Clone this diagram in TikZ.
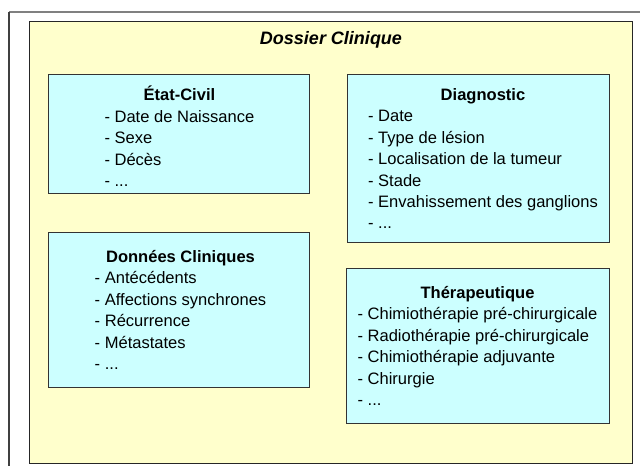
\documentclass[tikz,border=0pt]{standalone}
\usepackage{fontspec}
\setmainfont{Liberation Sans}
\definecolor{sheetfill}{HTML}{FFFFCC}
\definecolor{panelfill}{HTML}{CCFFFF}
\definecolor{framegray}{HTML}{808080}
\begin{document}
\begin{tikzpicture}[x=0.75pt,y=-0.75pt,
  sheet/.style={draw=black!85, line width=0.9pt, fill=sheetfill, anchor=north west, inner sep=0pt},
  panel/.style={draw=black!80, line width=0.9pt, fill=panelfill, anchor=north west, inner sep=0pt},
  listing/.style={inner sep=0pt, font=\fontsize{12.4}{16.1}\selectfont},
  heading/.style={inner sep=0pt, font=\fontsize{13.5}{16}\selectfont\bfseries\itshape}]
\useasboundingbox (0,0) rectangle (640,466);
% window frame lines
\draw[framegray, line width=1.2pt] (9,12) -- (640,12);
\draw[black!75, line width=1.2pt] (9,12) -- (9,466);
% yellow sheet
\node[sheet, minimum width=452.25pt, minimum height=331.5pt] (sheet) at (29,21) {};
\node[heading] (title) at (331,39.5) {Dossier Clinique};
% panels
\node[panel, minimum width=195.75pt, minimum height=89.25pt] (etat) at (48,74) {};
\node[panel, minimum width=196.5pt, minimum height=126pt] (diag) at (347,74) {};
\node[panel, minimum width=195.75pt, minimum height=116.25pt] (donnees) at (48,232) {};
\node[panel, minimum width=197.25pt, minimum height=116.25pt] (thera) at (346,268) {};
% panel contents
\node[listing] (etatText) at (179.4,139.5) {%
  \begin{tabular}{@{}l@{}}\multicolumn{1}{@{}c@{}}{\bfseries État-Civil}\\
  - Date de Naissance\\ - Sexe\\ - Décès\\ - ...\end{tabular}};
\node[listing] (diagText) at (483,160.3) {%
  \begin{tabular}{@{}l@{}}\multicolumn{1}{@{}c@{}}{\bfseries Diagnostic}\\
  - Date\\ - Type de lésion\\ - Localisation de la tumeur\\ - Stade\\
  - Envahissement des ganglions\\ - ...\end{tabular}};
\node[listing] (donneesText) at (180.5,311.8) {%
  \begin{tabular}{@{}l@{}}\multicolumn{1}{@{}c@{}}{\bfseries Données Cliniques}\\
  - Antécédents\\ - Affections synchrones\\ - Récurrence\\ - Métastates\\ - ...\end{tabular}};
\node[listing] (theraText) at (477.5,347.8) {%
  \begin{tabular}{@{}l@{}}\multicolumn{1}{@{}c@{}}{\bfseries Thérapeutique}\\
  - Chimiothérapie pré-chirurgicale\\ - Radiothérapie pré-chirurgicale\\
  - Chimiothérapie adjuvante\\ - Chirurgie\\ - ...\end{tabular}};
\end{tikzpicture}
\end{document}
